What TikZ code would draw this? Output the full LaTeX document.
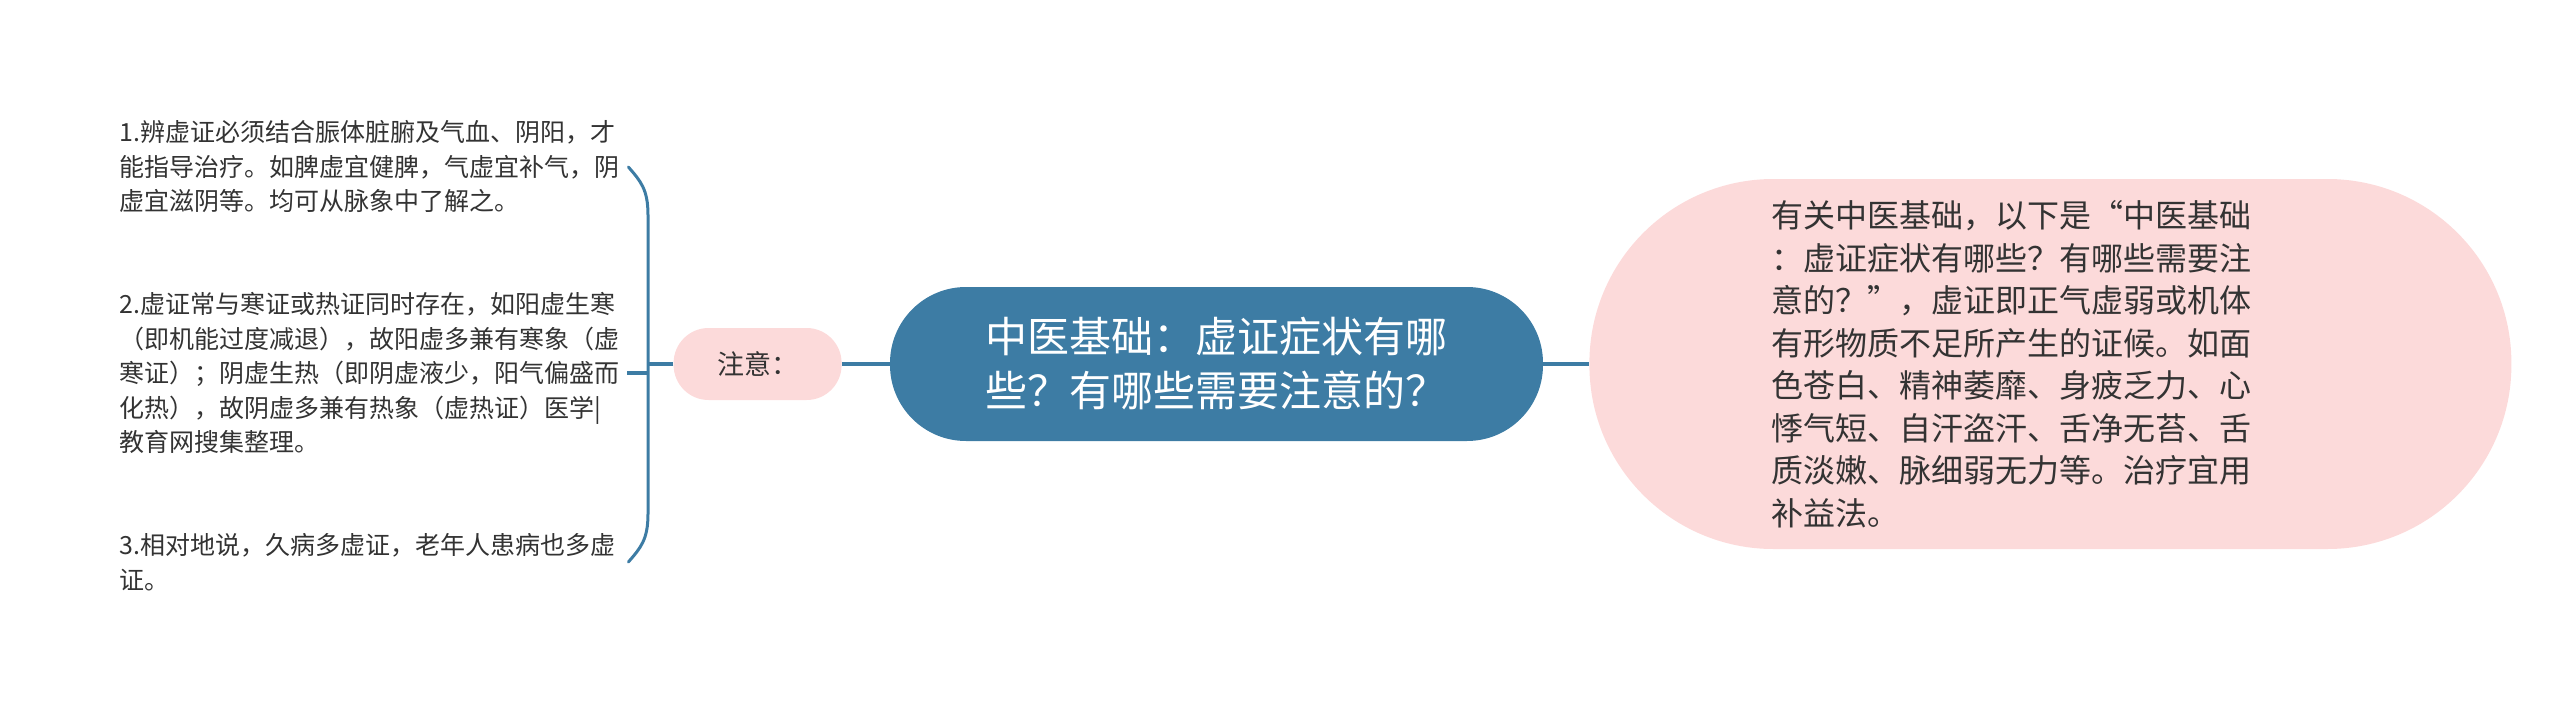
\documentclass[tikz,border=0pt]{standalone}
\usepackage{fontspec}
\setmainfont{Noto Sans CJK SC}
\usetikzlibrary{positioning,calc}
\definecolor{topicblue}{HTML}{3D7CA4}
\definecolor{notepink}{HTML}{FCDADA}
\definecolor{inkgray}{HTML}{333333}

\begin{document}
\begin{tikzpicture}[
x = 1pt,
y = 1pt,
node distance = 46pt,
every node/.style = {
	inner sep = 0pt,
	text = inkgray
},
topic/.style = {
	fill = topicblue,
	text = white,
	rounded corners = 76pt,
	minimum width = 653pt,
	minimum height = 154pt,
	align = left,
	font = \fontsize{42}{54}\selectfont
},
summary/.style = {
	fill = notepink,
	rounded corners = 184pt,
	minimum width = 922pt,
	minimum height = 370pt,
	text width = 558pt,
	align = left,
	font = \fontsize{32}{42.5}\selectfont
},
label/.style = {
	fill = notepink,
	rounded corners = 35pt,
	minimum width = 168pt,
	minimum height = 72pt,
	font = \fontsize{27}{32}\selectfont
},
item/.style = {
	anchor = west,
	text width = 500pt,
	align = left,
	font = \fontsize{25}{34.5}\selectfont
},
link/.style = {
	draw = topicblue,
	line width = 3.5pt
},
brace/.style = {
	draw = topicblue,
	line width = 3pt,
	line cap = round
}
]
\useasboundingbox (0,0) rectangle (2560,-712);

\node (center) [topic] at (1216.5,-364) {中医基础：虚证症状有哪\\些？有哪些需要注意的？};
\node (desc) [summary, right = 46pt of center] {有关中医基础，以下是“中医基础\\：虚证症状有哪些？有哪些需要注\\意的？”，虚证即正气虚弱或机体\\有形物质不足所产生的证候。如面\\色苍白、精神萎靡、身疲乏力、心\\悸气短、自汗盗汗、舌净无苔、舌\\质淡嫩、脉细弱无力等。治疗宜用\\补益法。};
\node (note) [label, left = 48pt of center] {注意：};

\node (item1) [item] at (119,-167) {1.辨虚证必须结合脤体脏腑及气血、阴阳，才\\能指导治疗。如脾虚宜健脾，气虚宜补气，阴\\虚宜滋阴等。均可从脉象中了解之。};
\node (item2) [item] at (119,-373) {2.虚证常与寒证或热证同时存在，如阳虚生寒\\（即机能过度减退），故阳虚多兼有寒象（虚\\寒证）；阴虚生热（即阴虚液少，阳气偏盛而\\化热），故阴虚多兼有热象（虚热证）医学|\\教育网搜集整理。};
\node (item3) [item] at (119,-562) {3.相对地说，久病多虚证，老年人患病也多虚\\证。};

\coordinate (spine) at (648,-364);

\draw[link] (center) -- (desc);
\draw[link] (note) -- (center);
\draw[link] (note.west) -- (note.west -| spine);
\draw[link] ([xshift=8pt]item2.east) -- (item2.east -| spine);
\draw[brace] ([xshift=9pt]item1.east) .. controls +(12,-14) and +(0,26) .. ($(item1.east -| spine)+(0,-48)$)
	-- ($(item3.east -| spine)+(0,48)$) .. controls +(0,-26) and +(12,14) .. ([xshift=9pt]item3.east);

\end{tikzpicture}
\end{document}
